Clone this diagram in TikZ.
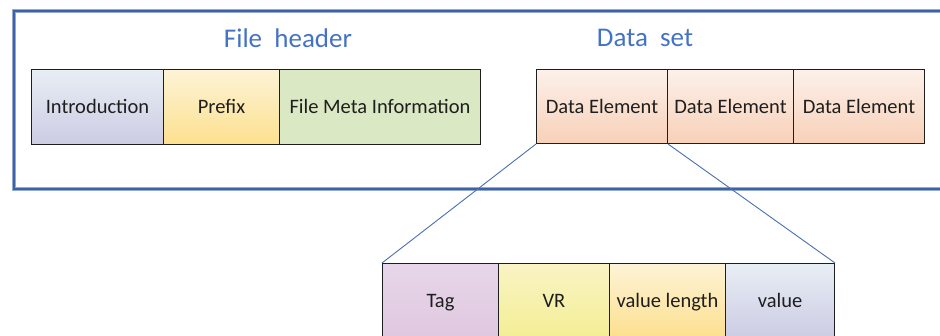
\documentclass[tikz,border=0pt]{standalone}
\usepackage{fontspec}
\setmainfont{Carlito}
\definecolor{frameblue}{HTML}{3D62A8}
\definecolor{titleblue}{HTML}{4472C4}
\definecolor{connblue}{HTML}{4A6FB0}
\definecolor{txt}{HTML}{1E1E1E}
\begin{document}
\begin{tikzpicture}[x=1pt,y=-1pt,
  cell/.style={draw=txt, line width=1pt, anchor=north west, inner sep=0pt,
    text=txt, font=\fontsize{20.5}{24}\selectfont, text height=16pt, text depth=2pt},
  titletext/.style={text=titleblue, font=\fontsize{27}{31}\selectfont, inner sep=0pt},
  conn/.style={draw=connblue, line width=0.9pt}]
\useasboundingbox (0,0) rectangle (940,336);
\clip (0,0) rectangle (940,336);
% frame
\draw[frameblue!55, line width=4pt] (14,11) rectangle (980,189);
\draw[frameblue, line width=2.2pt] (14,11) rectangle (980,189);
% titles
\node[titletext] (fh) at (288,38) {File\ \ header};
\node[titletext] (ds) at (645,38) {Data\ \ set};
% header cells
\node[cell, minimum width=132pt, minimum height=75pt, top color={rgb,255:red,232;green,238;blue,244}, bottom color={rgb,255:red,204;green,204;blue,228}] (intro) at (31,69) {Introduction};
\node[cell, minimum width=116pt, minimum height=75pt, top color={rgb,255:red,253;green,244;blue,214}, bottom color={rgb,255:red,253;green,224;blue,143}] (prefix) at (163,69) {Prefix};
\node[cell, minimum width=201pt, minimum height=75pt, fill={rgb,255:red,218;green,232;blue,196}] (fmi) at (279,69) {File Meta Information};
% data elements
\node[cell, minimum width=131pt, minimum height=74pt, top color={rgb,255:red,252;green,241;blue,234}, bottom color={rgb,255:red,248;green,208;blue,184}] (de1) at (536,69) {Data Element};
\node[cell, minimum width=126pt, minimum height=74pt, top color={rgb,255:red,252;green,241;blue,234}, bottom color={rgb,255:red,248;green,208;blue,184}] (de2) at (667,69) {Data Element};
\node[cell, minimum width=131pt, minimum height=74pt, top color={rgb,255:red,252;green,241;blue,234}, bottom color={rgb,255:red,248;green,208;blue,184}] (de3) at (793,69) {Data Element};
% element parts
\node[cell, minimum width=116pt, minimum height=74pt, top color={rgb,255:red,231;green,214;blue,233}, bottom color={rgb,255:red,224;green,200;blue,224}] (tag) at (382,263) {Tag};
\node[cell, minimum width=111pt, minimum height=74pt, top color={rgb,255:red,249;green,244;blue,196}, bottom color={rgb,255:red,244;green,238;blue,150}] (vr) at (498,263) {VR};
\node[cell, minimum width=116pt, minimum height=74pt, top color={rgb,255:red,253;green,243;blue,214}, bottom color={rgb,255:red,253;green,224;blue,143}] (vl) at (609,263) {value length};
\node[cell, minimum width=109pt, minimum height=74pt, top color={rgb,255:red,232;green,238;blue,245}, bottom color={rgb,255:red,204;green,204;blue,228}] (val) at (725,263) {value};
% connectors
\draw[conn] (de1.south west) -- (tag.north west);
\draw[conn] (de1.south east) -- (val.north east);
\end{tikzpicture}
\end{document}
